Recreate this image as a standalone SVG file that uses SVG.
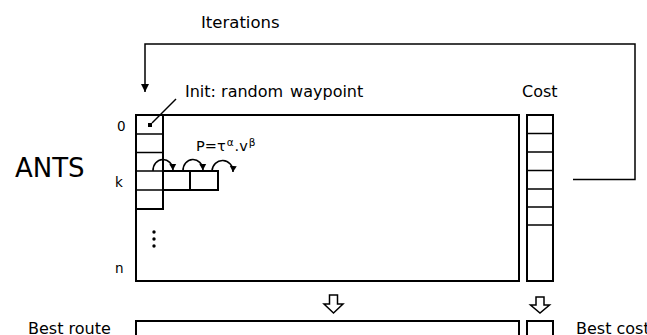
<svg xmlns="http://www.w3.org/2000/svg" width="647" height="335" viewBox="0 0 647 335">
<style>
text{font-family:"DejaVu Sans","Liberation Sans",sans-serif;fill:#000}
.lbl{font-size:16px}
.idx{font-size:13.5px}
.box{fill:#fff;stroke:#000;stroke-width:2}
.ln{fill:none;stroke:#000;stroke-width:1.5}
.hollow{fill:#fff;stroke:#000;stroke-width:1.5;stroke-linejoin:miter}
</style>
<defs>
<marker id="ah" markerWidth="10" markerHeight="10" refX="8" refY="5" orient="auto" markerUnits="userSpaceOnUse">
<path d="M0,1 L8,5 L0,9 Z" fill="#000"/>
</marker>
<marker id="sh" markerWidth="8" markerHeight="8" refX="6" refY="4" orient="auto" markerUnits="userSpaceOnUse">
<path d="M0,0.5 L6,4 L0,7.5 Z" fill="#000"/>
</marker>
</defs>
<g id="matrix">
<rect class="box" x="136" y="115" width="383" height="166"/>
</g>
<g id="ants">
<rect class="box" x="136" y="115" width="27" height="94"/>
<line class="ln" x1="136" y1="134" x2="163" y2="134"/>
<line class="ln" x1="136" y1="152.5" x2="163" y2="152.5"/>
<line class="ln" x1="136" y1="171" x2="163" y2="171"/>
<line class="ln" x1="136" y1="190" x2="163" y2="190"/>
<rect class="box" x="163" y="171" width="27" height="19"/>
<rect class="box" x="190" y="171" width="28" height="19"/>
<rect x="148" y="123" width="4" height="4" fill="#000"/>
<circle cx="154" cy="232" r="1.7" fill="#000"/>
<circle cx="154" cy="239" r="1.7" fill="#000"/>
<circle cx="154" cy="246" r="1.7" fill="#000"/>
</g>
<g id="cost">
<rect class="box" x="527" y="115" width="26" height="166"/>
<line class="ln" x1="527" y1="133.5" x2="553" y2="133.5"/>
<line class="ln" x1="527" y1="152" x2="553" y2="152"/>
<line class="ln" x1="527" y1="170.5" x2="553" y2="170.5"/>
<line class="ln" x1="527" y1="189" x2="553" y2="189"/>
<line class="ln" x1="527" y1="207" x2="553" y2="207"/>
<line class="ln" x1="527" y1="225" x2="553" y2="225"/>
</g>
<g id="best-route">
<rect class="box" x="136" y="321" width="383" height="30"/>
</g>
<g id="best-cost">
<rect class="box" x="527" y="321" width="26" height="30"/>
</g>
<g id="connectors">
<polyline class="ln" points="573,179.5 635,179.5 635,44 145,44 145,92" marker-end="url(#ah)"/>
<line class="ln" x1="176" y1="99" x2="152" y2="123"/>
<path class="ln" d="M153,171 A10,11 0 0 1 173,170" marker-end="url(#sh)"/>
<path class="ln" d="M183,171 A10,11 0 0 1 203,170" marker-end="url(#sh)"/>
<path class="ln" d="M212,171 A10.5,11 0 0 1 233,172" marker-end="url(#sh)"/>
<path class="hollow" d="M329.5,295 L337.5,295 L337.5,304 L343,304 L333.5,313 L324,304 L329.5,304 Z"/>
<path class="hollow" d="M536,297 L544,297 L544,305 L549.5,305 L540,313 L530.5,305 L536,305 Z"/>
</g>
<g id="labels">
<text class="lbl" x="201" y="28" style="font-size:16.5px">Iterations</text>
<text class="lbl" x="185" y="97">Init: random<tspan dx="7">waypoint</tspan></text>
<text class="lbl" x="522" y="97">Cost</text>
<text x="15" y="177" style="font-size:26px">ANTS</text>
<text class="idx" x="117" y="131">0</text>
<text class="idx" x="115" y="187">k</text>
<text class="idx" x="115" y="273">n</text>
<text class="lbl" x="28" y="334">Best route</text>
<text class="lbl" x="576" y="334">Best cost</text>
<text x="196" y="151" style="font-size:14.5px">P=τ<tspan dx="1" dy="-5" style="font-size:10.5px">α</tspan><tspan dx="1" dy="5">.v</tspan><tspan dx="1" dy="-5" style="font-size:10.5px">β</tspan></text>
</g>
</svg>
